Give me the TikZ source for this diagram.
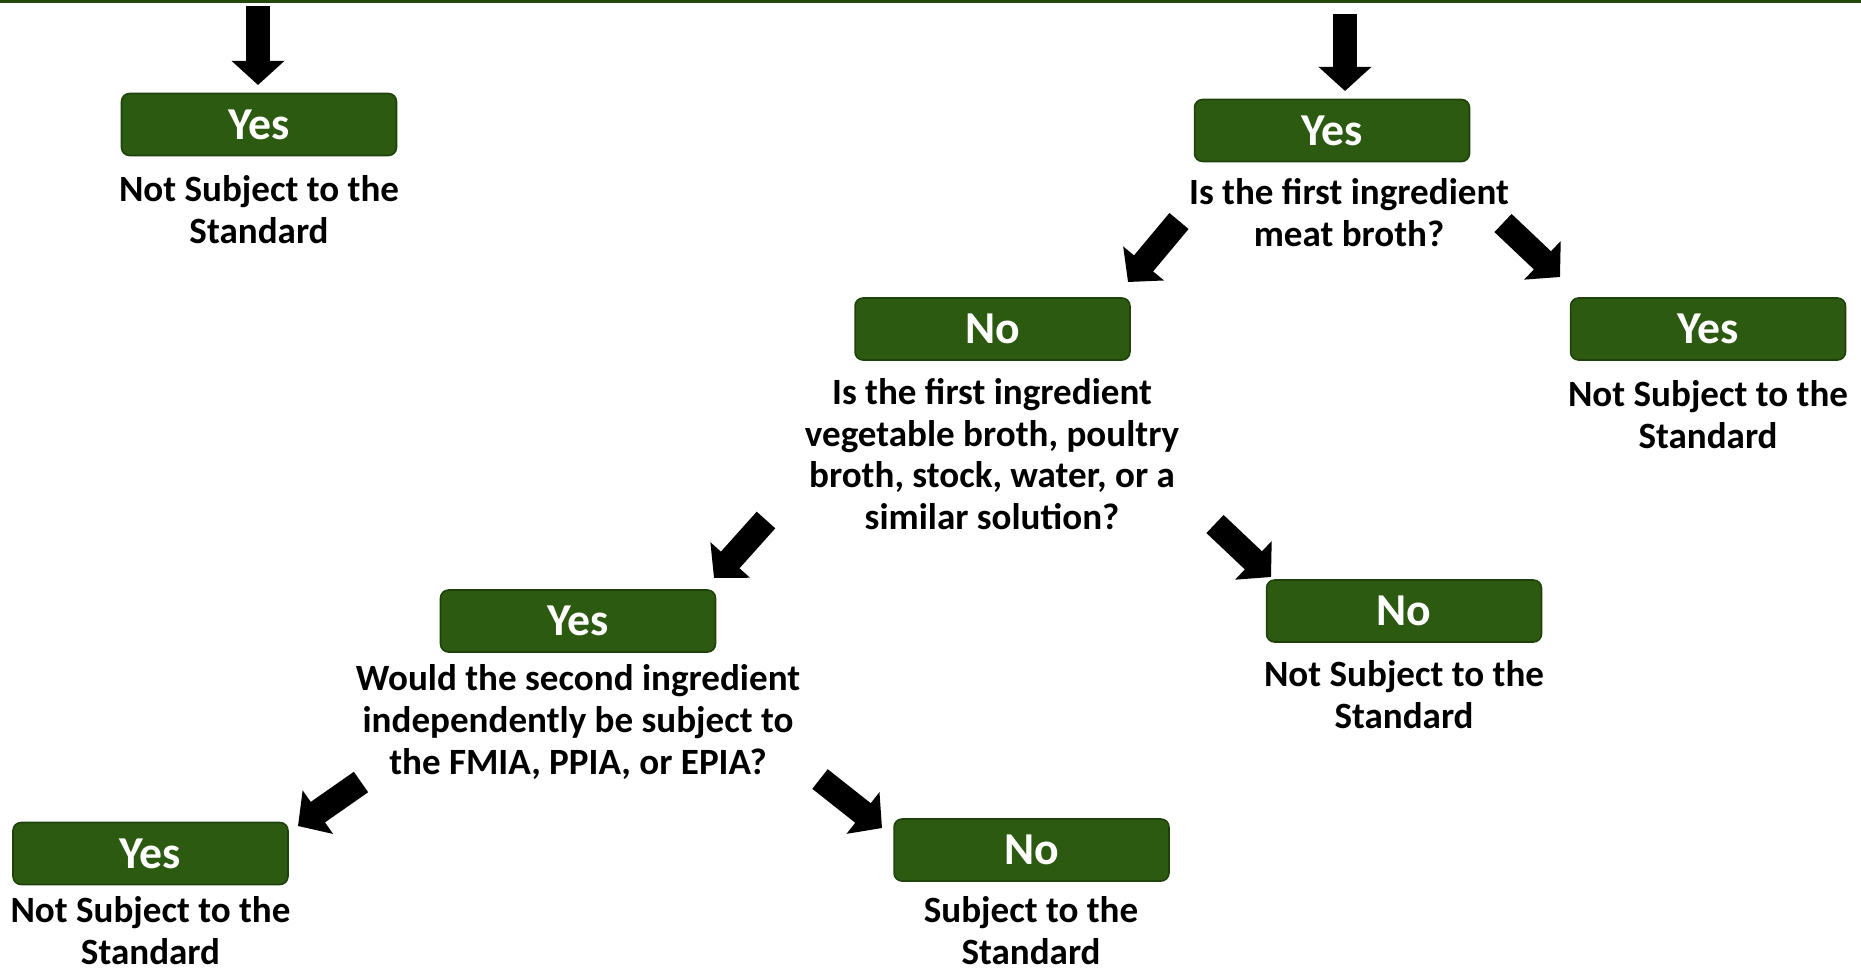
\documentclass[tikz,border=0pt]{standalone}
\usepackage{fontspec}
\setmainfont{Carlito}
\usetikzlibrary{arrows.meta}
\definecolor{boxgreen}{RGB}{45,90,17}
\definecolor{boxedge}{RGB}{30,66,10}
\definecolor{topgreen}{RGB}{35,72,14}
\tikzset{
  ansbox/.style={draw=boxedge, line width=0.9pt, fill=boxgreen, rounded corners=0.16cm,
    minimum width=5.5cm, minimum height=1.24cm, inner sep=0pt,
    text=white, font=\fontsize{26pt}{28pt}\selectfont\bfseries},
  desc/.style={align=center, inner sep=0pt, text=black,
    font=\fontsize{21.1pt}{23.8pt}\selectfont\bfseries},
  blockarrow/.style={line width=14.2pt, black,
    -{Triangle[length=13.8pt, width=29.5pt]}}
}
\begin{document}
\begin{tikzpicture}[x=0.02cm, y=-0.02cm]
\useasboundingbox (0,0) rectangle (1861,971);
\fill[topgreen] (0,0) rectangle (1861,3);

% boxes
\node[ansbox] (A) at (259,124.5) {Yes};
\node[ansbox] (B) at (1332,130.5) {Yes};
\node[ansbox] (C) at (992.5,329) {No};
\node[ansbox] (D) at (1708,329) {Yes};
\node[ansbox] (E) at (578,621) {Yes};
\node[ansbox] (F) at (1404,611) {No};
\node[ansbox] (G) at (150.5,853.5) {Yes};
\node[ansbox] (H) at (1031.5,850) {No};

% descriptions
\node[desc] (tA) at (259,210) {Not Subject to the\\Standard};
\node[desc] (tB) at (1349,213) {Is the first ingredient\\meat broth?};
\node[desc] (tC) at (992,454) {Is the first ingredient\\vegetable broth, poultry\\broth, stock, water, or a\\similar solution?};
\node[desc] (tD) at (1708,415) {Not Subject to the\\Standard};
\node[desc] (tE) at (578,722) {Would the second ingredient\\independently be subject to\\the FMIA, PPIA, or EPIA?};
\node[desc] (tF) at (1404,695) {Not Subject to the\\Standard};
\node[desc] (tG) at (150.5,930.5) {Not Subject to the\\Standard};
\node[desc] (tH) at (1031,930.5) {Subject to the\\Standard};

% arrow ends
\coordinate (a1s) at (258,6);    \coordinate (a1e) at (258,85);
\coordinate (a2s) at (1345,14);  \coordinate (a2e) at (1345,91);
\coordinate (a3s) at (1179,221); \coordinate (a3e) at (1128,282);
\coordinate (a4s) at (1503,223); \coordinate (a4e) at (1560,277);
\coordinate (a5s) at (766,520);  \coordinate (a5e) at (714,578);
\coordinate (a6s) at (1215,524); \coordinate (a6e) at (1271,577);
\coordinate (a7s) at (361,782);  \coordinate (a7e) at (298,826);
\coordinate (a8s) at (820,779);  \coordinate (a8e) at (882,828);

\foreach \i in {1,...,8} {
  \draw[blockarrow] (a\i s) -- (a\i e);
}
\end{tikzpicture}
\end{document}
